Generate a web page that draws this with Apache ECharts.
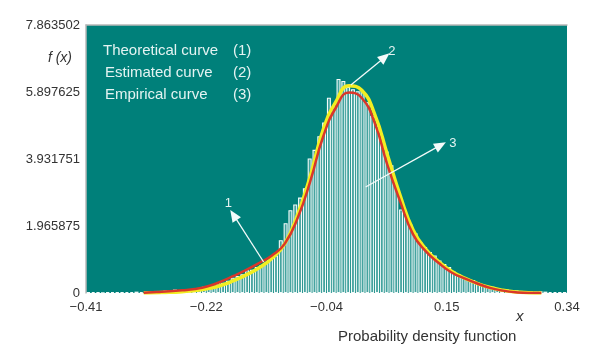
<!DOCTYPE html>
<html>
<head>
<meta charset="utf-8">
<script src="https://cdn.jsdelivr.net/npm/echarts@6/dist/echarts.min.js"></script>
<style>
  html, body { margin: 0; padding: 0; background: #fff; }
  #chart { width: 591px; height: 345px; }
</style>
</head>
<body>
<div id="chart"></div>
<script>
// axis ticks (labels are printed exactly as in the figure)
const xMin = -0.41, xMax = 0.34, xInterval = 0.1875;
const xTickLabels = ["\u22120.41", "\u22120.22", "\u22120.04", "0.15", "0.34"];
const yMax = 7.863502, yInterval = 7.863502 / 4;
const yTickLabels = ["0", "1.965875", "3.931751", "5.897625", "7.863502"];

// histogram: 100 bins of width 0.0075 starting at -0.41
const binStart = -0.41, binWidth = 0.0075;
const binValues = [
  0.02, 0.03, 0.02, 0.01, 0.02, 0.03, 0.02, 0.02, 0.03, 0.03,
  0.04, 0.03, 0.05, 0.05, 0.06, 0.05, 0.07, 0.08, 0.10, 0.09,
  0.10, 0.12, 0.11, 0.15, 0.18, 0.20, 0.22, 0.29, 0.30, 0.36,
  0.45, 0.50, 0.55, 0.67, 0.68, 0.76, 0.82, 0.90, 1.00, 1.10,
  1.55, 2.05, 2.43, 2.60, 2.80, 3.07, 3.95, 4.20, 4.60, 5.00,
  5.73, 5.45, 6.28, 6.22, 6.05, 5.98, 5.92, 5.93, 5.60, 5.20,
  4.90, 4.55, 4.15, 3.75, 3.12, 2.45, 2.30, 2.00, 1.75, 1.50,
  1.35, 1.20, 1.10, 0.95, 0.85, 0.76, 0.62, 0.55, 0.47, 0.40,
  0.38, 0.30, 0.25, 0.20, 0.18, 0.15, 0.12, 0.10, 0.08, 0.07,
  0.06, 0.05, 0.05, 0.04, 0.05, 0.04, 0.03, 0.03, 0.02, 0.02
];

// curves sampled every 0.02 from -0.32 to 0.30
const curveX = [
  -0.32, -0.30, -0.28, -0.26, -0.24, -0.22, -0.20, -0.18, -0.16, -0.14,
  -0.12, -0.10, -0.08, -0.06, -0.04, -0.02, 0.00, 0.02, 0.04, 0.06, 0.08,
  0.10, 0.12, 0.14, 0.16, 0.18, 0.20, 0.22, 0.24, 0.26, 0.28, 0.30
];
const theoretical = [
  0.01, 0.03, 0.05, 0.08, 0.12, 0.20, 0.33, 0.50, 0.68, 0.88,
  1.10, 1.45, 2.20, 3.30, 4.60, 5.45, 5.88, 5.72, 5.00, 3.75, 2.68,
  1.72, 1.22, 0.88, 0.60, 0.43, 0.28, 0.15, 0.07, 0.02, 0.00, 0.00
];
const estimated = [
  0.00, 0.01, 0.02, 0.04, 0.07, 0.13, 0.22, 0.36, 0.53, 0.74,
  1.02, 1.45, 2.30, 3.45, 4.80, 5.62, 6.08, 5.95, 5.25, 4.05, 2.85,
  1.85, 1.28, 0.92, 0.64, 0.44, 0.28, 0.16, 0.08, 0.03, 0.01, 0.00
];

// arrows: [from, to] in data units, and their numbers
const arrows = [
  [[-0.133, 0.91], [-0.180, 2.29]],
  [[0.003, 6.10], [0.056, 6.92]],
  [[0.026, 3.11], [0.143, 4.34]]
];
const arrowLabels = [
  { name: "1", coord: [-0.188, 2.64] },
  { name: "2", coord: [0.067, 7.10] },
  { name: "3", coord: [0.162, 4.40] }
];

const legendRows = [
  ["Theoretical curve", "(1)"],
  ["Estimated curve", "(2)"],
  ["Empirical curve", "(3)"]
];

const teal = "#00807a";
const lightText = "#e4f3f2";
const font = "Liberation Sans, Arial, sans-serif";

let chart = echarts.init(document.getElementById("chart"));

const legendGraphics = [];
legendRows.forEach((r, i) => {
  legendGraphics.push({
    type: "text", left: 103 + (i ? 2 : 0), top: 43 + i * 22,
    style: { text: r[0], fill: lightText, font: "15px " + font }
  });
  legendGraphics.push({
    type: "text", left: 233, top: 43 + i * 22,
    style: { text: r[1], fill: lightText, font: "15px " + font }
  });
});

const option = {
  animation: false,
  grid: {
    left: 86, right: 24, top: 25, bottom: 52,
    show: true, backgroundColor: teal, borderWidth: 0
  },
  xAxis: [{
    type: "value", min: xMin, max: xMax, interval: xInterval,
    axisLine: { show: false }, axisTick: { show: false }, splitLine: { show: false },
    axisLabel: {
      color: "#333", fontSize: 13, fontFamily: font, margin: 8,
      formatter: v => xTickLabels[Math.round((v - xMin) / xInterval)]
    }
  }, {
    type: "value", position: "top", min: xMin, max: xMax,
    axisLine: { show: true, onZero: false, lineStyle: { color: "#b8b8b8", width: 1.5 } },
    axisTick: { show: false }, axisLabel: { show: false }, splitLine: { show: false }
  }],
  yAxis: {
    type: "value", min: 0, max: yMax, interval: yInterval,
    axisLine: { show: true, onZero: false, lineStyle: { color: "#b8b8b8", width: 1.5 } },
    axisTick: { show: false }, splitLine: { show: false },
    axisLabel: {
      color: "#333", fontSize: 13, fontFamily: font, margin: 6,
      showMaxLabel: true,
      formatter: v => yTickLabels[Math.round(v / yInterval)]
    }
  },
  graphic: legendGraphics.concat([
    { type: "text", right: 519, top: 51,
      style: { text: "f (x)", fill: "#333", font: "italic 14px " + font } },
    { type: "text", left: 516, top: 309,
      style: { text: "x", fill: "#333", font: "italic 15px " + font } },
    { type: "text", left: 338, top: 329,
      style: { text: "Probability density function", fill: "#333", font: "15px " + font } }
  ]),
  series: [{
    name: "Empirical curve",
    type: "bar",
    barWidth: 4,
    data: binValues.map((v, i) => [binStart + binWidth * (i + 0.5), v]),
    itemStyle: { color: "rgba(225,246,244,0.3)", borderColor: "#f4fbfa", borderWidth: 1.1 },
    z: 2
  }, {
    name: "Estimated curve",
    type: "line", smooth: true, symbol: "none",
    data: curveX.map((x, i) => [x, estimated[i]]),
    lineStyle: { color: "#f2ee22", width: 3.5 },
    z: 3
  }, {
    name: "Theoretical curve",
    type: "line", smooth: true, symbol: "none",
    data: curveX.map((x, i) => [x, theoretical[i]]),
    lineStyle: { color: "#d9372a", width: 2.5 },
    z: 4,
    markLine: {
      silent: true, symbol: ["none", "triangle"], symbolSize: [10, 12],
      lineStyle: { color: "#f4fbfa", width: 1.3, type: "solid" },
      label: { show: false },
      data: arrows.map(a => [{ coord: a[0] }, { coord: a[1] }])
    },
    markPoint: {
      silent: true, symbol: "circle", symbolSize: 0,
      label: { show: true, color: lightText, fontSize: 13, fontFamily: font, formatter: "{b}" },
      data: arrowLabels
    }
  }]
};

chart.setOption(option);
window.addEventListener("resize", () => chart.resize());
</script>
</body>
</html>
